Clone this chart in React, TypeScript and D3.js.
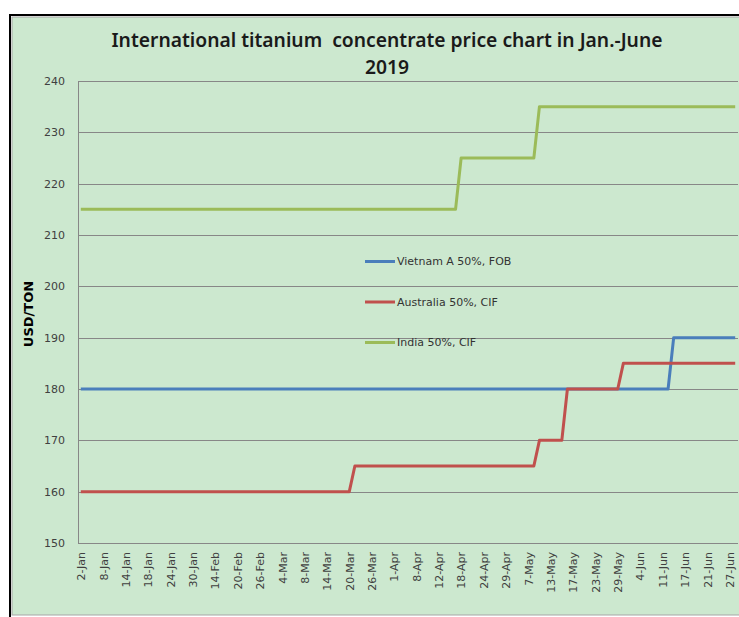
import React from "react";
import * as d3 from "d3";

const TITLE_LINES = ["International titanium  concentrate price chart in Jan.-June", "2019"];
const Y_LABEL = "USD/TON";
const Y_TICKS = [150, 160, 170, 180, 190, 200, 210, 220, 230, 240];

// labelled categories (every 4th trading day)
const TICK_LABELS = [
  "2-Jan", "8-Jan", "14-Jan", "18-Jan", "24-Jan", "30-Jan", "14-Feb", "20-Feb", "26-Feb", "4-Mar",
  "8-Mar", "14-Mar", "20-Mar", "26-Mar", "1-Apr", "8-Apr", "12-Apr", "18-Apr", "24-Apr", "29-Apr",
  "7-May", "13-May", "17-May", "23-May", "29-May", "4-Jun", "11-Jun", "17-Jun", "21-Jun", "27-Jun",
];
const TICK_EVERY = 4;

const SERIES_NAMES = ["Vietnam A 50%, FOB", "Australia 50%, CIF", "India 50%, CIF"];
const SERIES_COLORS = ["#4a7ebb", "#c0504d", "#9bbb59"];

const VIETNAM = [
  180, 180, 180, 180, 180, 180, 180, 180, 180, 180,
  180, 180, 180, 180, 180, 180, 180, 180, 180, 180,
  180, 180, 180, 180, 180, 180, 180, 180, 180, 180,
  180, 180, 180, 180, 180, 180, 180, 180, 180, 180,
  180, 180, 180, 180, 180, 180, 180, 180, 180, 180,
  180, 180, 180, 180, 180, 180, 180, 180, 180, 180,
  180, 180, 180, 180, 180, 180, 180, 180, 180, 180,
  180, 180, 180, 180, 180, 180, 180, 180, 180, 180,
  180, 180, 180, 180, 180, 180, 180, 180, 180, 180,
  180, 180, 180, 180, 180, 180, 180, 180, 180, 180,
  180, 180, 180, 180, 180, 180, 190, 190, 190, 190,
  190, 190, 190, 190, 190, 190, 190, 190,
];

const AUSTRALIA = [
  160, 160, 160, 160, 160, 160, 160, 160, 160, 160,
  160, 160, 160, 160, 160, 160, 160, 160, 160, 160,
  160, 160, 160, 160, 160, 160, 160, 160, 160, 160,
  160, 160, 160, 160, 160, 160, 160, 160, 160, 160,
  160, 160, 160, 160, 160, 160, 160, 160, 160, 165,
  165, 165, 165, 165, 165, 165, 165, 165, 165, 165,
  165, 165, 165, 165, 165, 165, 165, 165, 165, 165,
  165, 165, 165, 165, 165, 165, 165, 165, 165, 165,
  165, 165, 170, 170, 170, 170, 170, 180, 180, 180,
  180, 180, 180, 180, 180, 180, 180, 185, 185, 185,
  185, 185, 185, 185, 185, 185, 185, 185, 185, 185,
  185, 185, 185, 185, 185, 185, 185, 185,
];

const INDIA = [
  215, 215, 215, 215, 215, 215, 215, 215, 215, 215,
  215, 215, 215, 215, 215, 215, 215, 215, 215, 215,
  215, 215, 215, 215, 215, 215, 215, 215, 215, 215,
  215, 215, 215, 215, 215, 215, 215, 215, 215, 215,
  215, 215, 215, 215, 215, 215, 215, 215, 215, 215,
  215, 215, 215, 215, 215, 215, 215, 215, 215, 215,
  215, 215, 215, 215, 215, 215, 215, 215, 225, 225,
  225, 225, 225, 225, 225, 225, 225, 225, 225, 225,
  225, 225, 235, 235, 235, 235, 235, 235, 235, 235,
  235, 235, 235, 235, 235, 235, 235, 235, 235, 235,
  235, 235, 235, 235, 235, 235, 235, 235, 235, 235,
  235, 235, 235, 235, 235, 235, 235, 235,
];

const SERIES = [VIETNAM, AUSTRALIA, INDIA];

const W = 739;
const H = 617;
const BG = "#cce8cf";
const FONT = "'DejaVu Sans', Verdana, sans-serif";
const TITLE_FONT = "'Noto Sans', 'Open Sans', sans-serif";

export default function App() {
  const plot = { left: 78, right: 738, top: 81, bottom: 543 };
  const n = VIETNAM.length;
  const x = d3
    .scaleBand<number>()
    .domain(d3.range(n))
    .range([plot.left, plot.right])
    .padding(0);
  const cx = (i: number) => (x(i) as number) + x.bandwidth() / 2;
  const y = d3.scaleLinear().domain([150, 240]).range([plot.bottom, plot.top]);

  const line = d3
    .line<number>()
    .x((_, i) => cx(i))
    .y((v) => y(v));

  return (
    <svg
      width={W}
      height={H}
      style={{ position: "absolute", left: 0, top: 0, display: "block" }}
    >
      <rect x={0} y={0} width={W} height={H} fill="#ffffff" />
      <rect x={12} y={17} width={W} height={598} fill={BG} stroke="#a6a6a6" strokeWidth={1} />
      <line x1={10} y1={14} x2={10} y2={H} stroke="#000" strokeWidth={2} />
      <line x1={9} y1={15} x2={W} y2={15} stroke="#000" strokeWidth={2} />

      {TITLE_LINES.map((t, i) => (
        <text
          key={i}
          x={387}
          y={47 + i * 27}
          textAnchor="middle"
          fontFamily={TITLE_FONT}
          fontWeight={600}
          fontSize={19.3}
          fill="#1a1a1a"
          style={{ whiteSpace: "pre" }}
        >
          {t}
        </text>
      ))}

      {/* gridlines */}
      {Y_TICKS.map((t) => (
        <line
          key={t}
          x1={plot.left}
          x2={plot.right}
          y1={Math.round(y(t)) + 0.5}
          y2={Math.round(y(t)) + 0.5}
          stroke="#878787"
          strokeWidth={1}
        />
      ))}
      <line
        x1={plot.left + 0.5}
        x2={plot.left + 0.5}
        y1={plot.top}
        y2={plot.bottom + 0.5}
        stroke="#878787"
        strokeWidth={1}
      />

      {/* y tick labels */}
      {Y_TICKS.map((t) => (
        <text
          key={t}
          x={65}
          y={y(t)}
          dy="0.35em"
          textAnchor="end"
          fontFamily={FONT}
          fontSize={11}
          fill="#404040"
        >
          {t}
        </text>
      ))}

      <text
        transform={`translate(28,${(plot.top + plot.bottom) / 2 + 2}) rotate(-90)`}
        textAnchor="middle"
        dy="0.35em"
        fontFamily={FONT}
        fontWeight="bold"
        fontSize={13}
        fill="#000"
      >
        {Y_LABEL}
      </text>

      {/* x tick labels */}
      {TICK_LABELS.map((lab, i) => (
        <text
          key={lab}
          transform={`translate(${cx(i * TICK_EVERY) + 0.5},552) rotate(-90)`}
          textAnchor="end"
          dy="0.35em"
          fontFamily={FONT}
          fontSize={11}
          fill="#404040"
        >
          {lab}
        </text>
      ))}

      {/* series */}
      {SERIES.map((s, i) => (
        <path
          key={i}
          d={line(s) || ""}
          fill="none"
          stroke={SERIES_COLORS[i]}
          strokeWidth={3}
          strokeLinejoin="round"
        />
      ))}

      {/* legend */}
      {SERIES_NAMES.map((name, i) => (
        <g key={name} transform={`translate(365,${261.5 + i * 40.5})`}>
          <line x1={0} x2={30} y1={0} y2={0} stroke={SERIES_COLORS[i]} strokeWidth={3} />
          <text x={32} y={0} dy="0.35em" fontFamily={FONT} fontSize={11} fill="#333">
            {name}
          </text>
        </g>
      ))}
    </svg>
  );
}
